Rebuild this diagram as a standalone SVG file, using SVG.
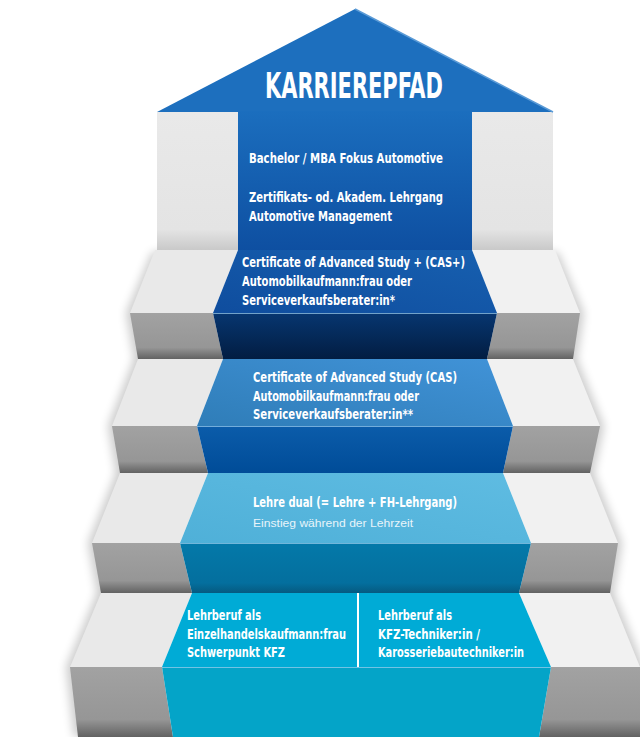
<svg xmlns="http://www.w3.org/2000/svg" width="640" height="737" viewBox="0 0 640 737">
<defs>
<filter id="blur" x="-30%" y="-30%" width="160%" height="160%"><feGaussianBlur stdDeviation="5"/></filter>
<linearGradient id="riserL" x1="0" y1="0" x2="0" y2="1"><stop offset="0" stop-color="#a2a2a2"/><stop offset="0.75" stop-color="#969696"/><stop offset="1" stop-color="#626262"/></linearGradient>
<linearGradient id="riserR" x1="0" y1="0" x2="0" y2="1"><stop offset="0" stop-color="#a2a2a2"/><stop offset="0.75" stop-color="#969696"/><stop offset="1" stop-color="#626262"/></linearGradient>
<linearGradient id="pillar" x1="0" y1="0" x2="0" y2="1"><stop offset="0" stop-color="#e9e9e9"/><stop offset="0.85" stop-color="#e4e4e4"/><stop offset="1" stop-color="#c9c9c9"/></linearGradient>
<linearGradient id="body" x1="0" y1="0" x2="0" y2="1"><stop offset="0" stop-color="#1b6ebe"/><stop offset="1" stop-color="#0e4fa1"/></linearGradient>
<linearGradient id="t1" x1="0" y1="1" x2="1" y2="0"><stop offset="0" stop-color="#0f4d9e"/><stop offset="1" stop-color="#1760b0"/></linearGradient>
<linearGradient id="r1" x1="0" y1="0" x2="0" y2="1"><stop offset="0" stop-color="#073670"/><stop offset="1" stop-color="#021d42"/></linearGradient>
<linearGradient id="t2" x1="0" y1="1" x2="1" y2="0"><stop offset="0" stop-color="#2f7db8"/><stop offset="1" stop-color="#4193d8"/></linearGradient>
<linearGradient id="r2" x1="0" y1="0" x2="0" y2="1"><stop offset="0" stop-color="#0b5caa"/><stop offset="1" stop-color="#004c98"/></linearGradient>
<linearGradient id="t3" x1="0" y1="1" x2="1" y2="0"><stop offset="0" stop-color="#4fb0d8"/><stop offset="1" stop-color="#5fbce2"/></linearGradient>
<linearGradient id="r3" x1="0" y1="0" x2="0" y2="1"><stop offset="0" stop-color="#0479a9"/><stop offset="0.8" stop-color="#046f9e"/><stop offset="1" stop-color="#055a80"/></linearGradient>
<style>
.tl{fill:#e9e9e9}.tr{fill:#f1f1f1}
.b{font-family:"Liberation Sans Narrow","DejaVu Sans Condensed","Liberation Sans",sans-serif;font-weight:bold;fill:#fff;font-size:14px}
.title{font-size:36px}
.n{font-family:"Liberation Sans","DejaVu Sans",sans-serif;fill:#e8f4fa;font-size:11px}
.hl{stroke:#9fd0f0;stroke-width:1;stroke-opacity:0.7;fill:none}
</style>
</defs>
<rect width="640" height="737" fill="#ffffff"/>
<g id="shadows" fill="#000" opacity="0.2" filter="url(#blur)">
<polygon points="152,252 126,313 134,359 108,426 116,473 88,543 97,593 66,667 74,737 120,737 110,667 140,593 130,543 160,473 150,426 175,359 170,313 195,252"/>
<polygon points="558,252 584,313 577,359 604,426 594,473 622,543 614,593 644,667 644,737 600,737 600,667 570,593 580,543 550,473 560,426 535,359 540,313 515,252"/>
</g>
<g id="stairs-gray">
<rect x="157" y="112" width="81" height="138" fill="url(#pillar)"/>
<rect x="472" y="112" width="81" height="138" fill="url(#pillar)"/>
<polygon class="tl" points="155,250 238,250 213,313 130,313"/>
<polygon class="tr" points="472,250 555,250 580,313 497,313"/>
<polygon fill="url(#riserL)" points="130,313 213,313 223,359 138,359"/>
<polygon fill="url(#riserR)" points="497,313 580,313 573,359 487,359"/>
<polygon class="tl" points="138,359 223,359 197,426 112,426"/>
<polygon class="tr" points="487,359 573,359 600,426 513,426"/>
<polygon fill="url(#riserL)" points="112,426 197,426 208,473 120,473"/>
<polygon fill="url(#riserR)" points="513,426 600,426 590,473 503,473"/>
<polygon class="tl" points="120,473 208,473 180,543 92,543"/>
<polygon class="tr" points="503,473 590,473 618,543 531,543"/>
<polygon fill="url(#riserL)" points="92,543 180,543 192,593 101,593"/>
<polygon fill="url(#riserR)" points="531,543 618,543 610,593 519,593"/>
<polygon class="tl" points="101,593 192,593 162,667 70,667"/>
<polygon class="tr" points="519,593 610,593 640,667 551,667"/>
<polygon fill="url(#riserL)" points="70,667 162,667 173,737 78,737"/>
<polygon fill="url(#riserR)" points="551,667 640,667 640,737 539,737"/>
</g>
<g id="path-top">
<polygon points="157,112 355,9 553,112" fill="#1d6fbe"/>
<polyline points="355,9 553,112" stroke="#5a9ad6" stroke-width="1.5" fill="none"/>
<rect x="238" y="111" width="234" height="140" fill="url(#body)"/>
<text class="b title" x="265" y="98" textLength="178" lengthAdjust="spacingAndGlyphs">KARRIEREPFAD</text>
<text class="b" x="249" y="163" textLength="194" lengthAdjust="spacingAndGlyphs">Bachelor / MBA Fokus Automotive</text>
<text class="b" x="249" y="202" textLength="194" lengthAdjust="spacingAndGlyphs">Zertifikats- od. Akadem. Lehrgang</text>
<text class="b" x="249" y="221" textLength="143" lengthAdjust="spacingAndGlyphs">Automotive Management</text>
</g>
<g id="step-cas-plus">
<polygon fill="url(#t1)" points="238,250 472,250 497,313 213,313"/>
<polygon fill="url(#r1)" points="213,313 497,313 487,359 223,359"/>
<line class="hl" x1="213" y1="313.5" x2="497" y2="313.5"/>
<text class="b" x="242" y="267" textLength="223" lengthAdjust="spacingAndGlyphs">Certificate of Advanced Study + (CAS+)</text>
<text class="b" x="242" y="286" textLength="170" lengthAdjust="spacingAndGlyphs">Automobilkaufmann:frau oder</text>
<text class="b" x="242" y="305" textLength="153" lengthAdjust="spacingAndGlyphs">Serviceverkaufsberater:in*</text>
</g>
<g id="step-cas">
<polygon fill="url(#t2)" points="223,359 487,359 513,426 197,426"/>
<polygon fill="url(#r2)" points="197,426 513,426 503,473 208,473"/>
<line class="hl" x1="197" y1="426.5" x2="513" y2="426.5"/>
<text class="b" x="253" y="382" textLength="204" lengthAdjust="spacingAndGlyphs">Certificate of Advanced Study (CAS)</text>
<text class="b" x="253" y="401" textLength="166" lengthAdjust="spacingAndGlyphs">Automobilkaufmann:frau oder</text>
<text class="b" x="253" y="419" textLength="160" lengthAdjust="spacingAndGlyphs">Serviceverkaufsberater:in**</text>
</g>
<g id="step-lehre-dual">
<polygon fill="url(#t3)" points="208,473 503,473 531,543 180,543"/>
<polygon fill="url(#r3)" points="180,543 531,543 519,593 192,593"/>
<line class="hl" x1="180" y1="543.5" x2="531" y2="543.5"/>
<text class="b" x="253" y="507" textLength="204" lengthAdjust="spacingAndGlyphs">Lehre dual (= Lehre + FH-Lehrgang)</text>
<text class="n" x="253" y="527" textLength="160" lengthAdjust="spacingAndGlyphs">Einstieg während der Lehrzeit</text>
</g>
<g id="step-lehrberuf">
<polygon fill="#00abd6" points="192,593 519,593 551,667 162,667"/>
<polygon fill="#04a4c8" points="162,667 551,667 539,737 173,737"/>
<line class="hl" x1="162" y1="667.5" x2="551" y2="667.5"/>
<line x1="358" y1="593" x2="358" y2="667" stroke="#ffffff" stroke-width="2"/>
<text class="b" x="187" y="620" textLength="74" lengthAdjust="spacingAndGlyphs">Lehrberuf als</text>
<text class="b" x="187" y="639" textLength="159" lengthAdjust="spacingAndGlyphs">Einzelhandelskaufmann:frau</text>
<text class="b" x="187" y="657" textLength="98" lengthAdjust="spacingAndGlyphs">Schwerpunkt KFZ</text>
<text class="b" x="378" y="620" textLength="74" lengthAdjust="spacingAndGlyphs">Lehrberuf als</text>
<text class="b" x="378" y="639" textLength="102" lengthAdjust="spacingAndGlyphs">KFZ-Techniker:in /</text>
<text class="b" x="378" y="657" textLength="146" lengthAdjust="spacingAndGlyphs">Karosseriebautechniker:in</text>
</g>
</svg>
